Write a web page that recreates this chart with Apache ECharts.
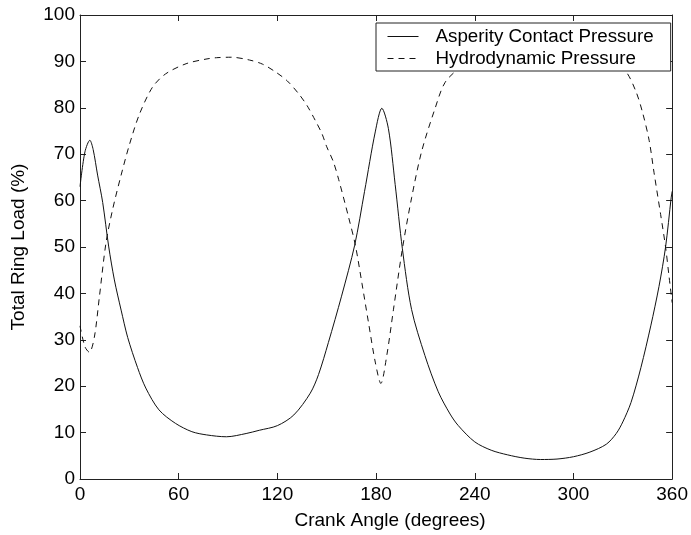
<!DOCTYPE html>
<html>
<head>
<meta charset="utf-8">
<script src="https://cdn.jsdelivr.net/npm/echarts@6/dist/echarts.min.js"></script>
<style>
html,body{margin:0;padding:0;background:#fff;}
#chart{width:691px;height:535px;}
</style>
</head>
<body>
<div id="chart"></div>
<script>
// ---- Data ----
var xTicks = [0, 60, 120, 180, 240, 300, 360];
var yTicks = [0, 10, 20, 30, 40, 50, 60, 70, 80, 90, 100];

var seriesNames = ['Asperity Contact Pressure', 'Hydrodynamic Pressure'];

var asperityAngle = [0, 3, 6, 8, 10.7, 13.8, 17.4, 20.9, 25, 29, 35, 40, 48, 58, 68, 77, 89, 101, 109, 120, 130, 140, 145, 151, 159, 167, 173, 179.5, 183.5, 187.5, 191.6, 196, 201.6, 209.7, 217.8, 225, 230, 240, 250, 260, 270, 280, 290, 300, 310, 320, 326, 330, 335, 341, 347, 352, 356, 359.4, 360];
var asperityLoad  = [63, 70.5, 73, 71, 65.5, 59.6, 50.2, 42.9, 36.4, 30.5, 24, 19.6, 14.9, 12, 10.2, 9.5, 9.1, 9.8, 10.5, 11.5, 13.8, 18.5, 22.5, 29.4, 39.4, 50.4, 62, 74.8, 79.9, 75.5, 63.5, 49.6, 36.5, 26.6, 18.8, 14, 11.5, 8, 6.2, 5.2, 4.5, 4.2, 4.3, 4.8, 5.8, 7.5, 9.8, 12.3, 16.5, 24, 33, 41.5, 50, 60.6, 62];

var hydroAngle = [0, 3, 5.7, 8.7, 11.8, 15.8, 19.9, 25, 30, 36, 44, 52, 64.5, 76.6, 83, 92, 103, 111, 119, 126, 133, 138, 143, 147, 150, 154, 157.3, 163.3, 167.4, 171.4, 175.4, 179.5, 182.9, 186.5, 190.6, 196, 201.6, 207.7, 215.8, 222, 232, 245, 260, 275, 290, 305, 320, 331.5, 338, 342, 346, 349, 353, 356, 358, 360];
var hydroLoad  = [33, 28.5, 27.3, 30.5, 39.3, 50.9, 58.2, 65.5, 72, 78.5, 84.4, 87.3, 89.5, 90.5, 90.8, 90.9, 90.3, 89.4, 87.7, 85.8, 83, 80.5, 77.3, 74.5, 71.6, 68.4, 64.5, 56.4, 50.4, 42.2, 33.7, 25.2, 20.6, 26.6, 36.6, 49.6, 60.6, 70.6, 79.8, 85.5, 89, 92.5, 94, 94.5, 94, 93, 91, 88, 83.5, 79, 73, 66, 57, 50, 44, 38];

// ---- Chart ----
function zip(a, b) { return a.map(function (v, i) { return [v, b[i]]; }); }
var FONT = "'Liberation Sans', Arial, Helvetica, sans-serif";
var AX = '#222';

function xAxisCfg(pos, showLabel) {
  return {
    type: 'value', position: pos, min: xTicks[0], max: xTicks[xTicks.length - 1],
    interval: xTicks[1] - xTicks[0],
    name: showLabel ? 'Crank Angle (degrees)' : '',
    nameLocation: 'middle', nameGap: 32,
    nameTextStyle: { fontSize: 19, fontFamily: FONT, color: '#000', padding: [0, 0, 0, 28] },
    axisLine: { show: true, onZero: false, lineStyle: { color: AX, width: 1 } },
    axisTick: { show: true, inside: true, length: 6, lineStyle: { color: AX } },
    axisLabel: { show: showLabel, fontSize: 19, fontFamily: FONT, color: '#000', margin: 6 },
    splitLine: { show: false }
  };
}
function yAxisCfg(pos, showLabel) {
  return {
    type: 'value', position: pos, min: yTicks[0], max: yTicks[yTicks.length - 1],
    interval: yTicks[1] - yTicks[0],
    name: showLabel ? 'Total Ring Load (%)' : '',
    nameLocation: 'middle', nameGap: 52,
    nameTextStyle: { fontSize: 19, fontFamily: FONT, color: '#000' },
    axisLine: { show: true, onZero: false, lineStyle: { color: AX, width: 1 } },
    axisTick: { show: true, inside: true, length: 6, lineStyle: { color: AX } },
    axisLabel: { show: showLabel, fontSize: 19, fontFamily: FONT, color: '#000', margin: 5 },
    splitLine: { show: false }
  };
}

var chart = echarts.init(document.getElementById('chart'), null, { renderer: 'canvas' });
chart.setOption({
  animation: false,
  backgroundColor: '#fff',
  grid: { left: 80, right: 16, top: 15, bottom: 50, containLabel: false },
  xAxis: [xAxisCfg('bottom', true), xAxisCfg('top', false)],
  yAxis: [yAxisCfg('left', true), yAxisCfg('right', false)],
  legend: {
    orient: 'vertical', left: 376, top: 23,
    backgroundColor: '#fff', borderColor: '#222', borderWidth: 1, borderRadius: 0,
    padding: [4, 17, 3, 11],
    itemWidth: 31, itemHeight: 18, itemGap: 3,
    itemStyle: { opacity: 0, color: 'rgba(0,0,0,0)', borderWidth: 0 },
    lineStyle: { width: 1 },
    textStyle: { fontSize: 18.8, fontFamily: FONT, color: '#000', padding: [0, 0, 0, 12] },
    data: seriesNames
  },
  series: [
    {
      name: seriesNames[0], type: 'line', xAxisIndex: 0, yAxisIndex: 0,
      data: zip(asperityAngle, asperityLoad),
      symbol: 'none', smooth: 0.3,
      lineStyle: { color: '#111', width: 1, type: 'solid' },
      itemStyle: { color: '#111' }
    },
    {
      name: seriesNames[1], type: 'line', xAxisIndex: 0, yAxisIndex: 0,
      data: zip(hydroAngle, hydroLoad),
      symbol: 'none', smooth: 0.3,
      lineStyle: { color: '#111', width: 1, type: [6, 5] },
      itemStyle: { color: '#111' }
    }
  ]
});
</script>
</body>
</html>
